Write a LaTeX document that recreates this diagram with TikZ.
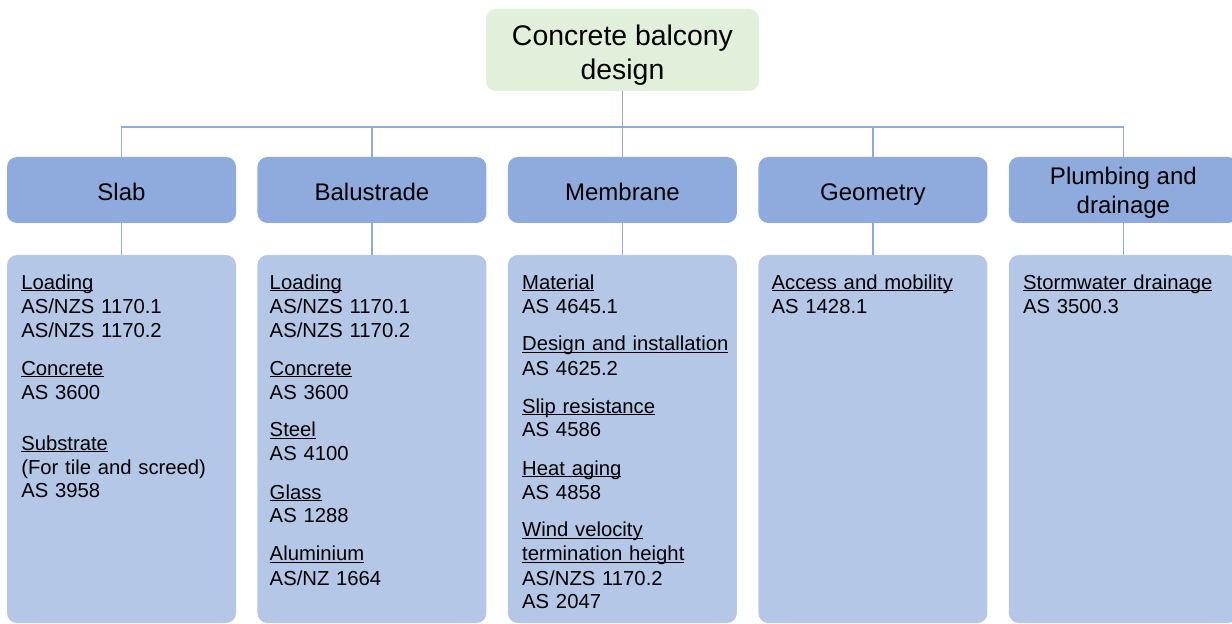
\documentclass[tikz,border=0pt]{standalone}
\usepackage{fontspec}
\setmainfont{Liberation Sans}
\usetikzlibrary{positioning,calc}
\definecolor{rootgreen}{HTML}{E2EFDA}
\definecolor{topicblue}{HTML}{8FAADC}
\definecolor{stdblue}{HTML}{B4C7E7}
\definecolor{linkblue}{HTML}{8FAADC}
% underlined heading, line crosses the descenders
\newcommand{\stdhead}[1]{\leavevmode\setbox0\hbox{#1}\rlap{\rule[-1.6pt]{\wd0}{0.8pt}}\box0}

\begin{document}
\begin{tikzpicture}[x=0.75pt,y=0.75pt,yscale=-1,xscale=1,
	root/.style={fill=rootgreen, rounded corners=7.5pt, minimum width=204.75pt, minimum height=61.5pt, align=center, inner sep=0pt, outer sep=0pt, text height=45pt, text depth=0pt, font=\fontsize{21.3}{25.5}\selectfont},
	topic/.style={fill=topicblue, rounded corners=7.5pt, minimum width=171.75pt, minimum height=49.5pt, align=center, inner sep=0pt, outer sep=0pt, text height=15pt, text depth=0pt, font=\fontsize{18}{21.75}\selectfont},
	stdbox/.style={fill=stdblue, rounded corners=7.5pt, minimum width=171.75pt, minimum height=276pt, inner sep=0pt, outer sep=0pt},
	stdtxt/.style={anchor=base west, text width=168pt, align=left, inner sep=0pt, font=\fontsize{15.2}{18}\selectfont},
	link/.style={draw=linkblue, line width=1.25pt}]
		\useasboundingbox (0,0) rectangle (1232,624);
		
		% Root
		\node [root] (root) at (622.5,50) {Concrete balcony\\design};
		
		% Topics
		\node [topic] (slab) at (121.5,190) {Slab};
		\node [topic, right=16.1pt of slab] (balustrade) {Balustrade};
		\node [topic, right=16.1pt of balustrade] (membrane) {Membrane};
		\node [topic, right=16.1pt of membrane] (geometry) {Geometry};
		\node [topic, right=16.1pt of geometry, text height=36pt] (plumbing) {Plumbing and\\drainage};
		
		% Standards boxes
		\foreach \t in {slab,balustrade,membrane,geometry,plumbing}{
			\node [stdbox, below=24pt of \t] (\t-std) {};
		}
		
		% Text Node
		\node [stdtxt] (slab-txt) at ($(slab-std.north west)+(14,34)$) {\stdhead{Loading}\\AS/NZS 1170.1\\AS/NZS 1170.2\\[10.5pt]\stdhead{Concrete}\\AS 3600\\[20.25pt]\stdhead{Substrate}\\(For tile and screed)\\AS 3958};
		% Text Node
		\node [stdtxt] (balustrade-txt) at ($(balustrade-std.north west)+(12,34)$) {\stdhead{Loading}\\AS/NZS 1170.1\\AS/NZS 1170.2\\[10.5pt]\stdhead{Concrete}\\AS 3600\\[10.5pt]\stdhead{Steel}\\AS 4100\\[10.5pt]\stdhead{Glass}\\AS 1288\\[10.5pt]\stdhead{Aluminium}\\AS/NZ 1664};
		% Text Node
		\node [stdtxt] (membrane-txt) at ($(membrane-std.north west)+(14,34)$) {\stdhead{Material}\\AS 4645.1\\[10.5pt]\stdhead{Design and installation}\\AS 4625.2\\[10.5pt]\stdhead{Slip resistance}\\AS 4586\\[10.5pt]\stdhead{Heat aging}\\AS 4858\\[10.5pt]\stdhead{Wind velocity}\\\stdhead{termination height}\\AS/NZS 1170.2\\AS 2047};
		% Text Node
		\node [stdtxt] (geometry-txt) at ($(geometry-std.north west)+(13,34)$) {\stdhead{Access and mobility}\\AS 1428.1};
		% Text Node
		\node [stdtxt] (plumbing-txt) at ($(plumbing-std.north west)+(14,34)$) {\stdhead{Stormwater drainage}\\AS 3500.3};
		
		% Connectors
		\coordinate (bus) at ($(root.south)+(0,36)$);
		\draw [link] (root.south) -- (bus);
		\foreach \t in {slab,balustrade,membrane,geometry,plumbing}{
			\draw [link] (\t.north) |- (bus);
			\draw [link] (\t.south) -- (\t-std.north);
		}
		
\end{tikzpicture}
\end{document}
